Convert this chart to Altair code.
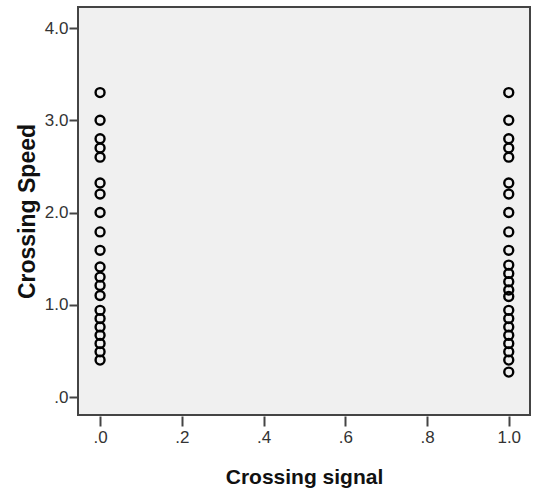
import altair as alt
import pandas as pd

signal_0 = [3.3, 3.0, 2.8, 2.7, 2.6, 2.32, 2.2, 2.0, 1.79, 1.59, 1.41, 1.3, 1.21, 1.1,
            0.94, 0.85, 0.76, 0.67, 0.58, 0.49, 0.40]
signal_1 = [3.3, 3.0, 2.8, 2.7, 2.6, 2.32, 2.2, 2.0, 1.79, 1.59, 1.43, 1.34, 1.25, 1.16,
            1.09, 0.94, 0.85, 0.76, 0.67, 0.58, 0.49, 0.40, 0.27]

x_ticks = [0.0, 0.2, 0.4, 0.6, 0.8, 1.0]
y_ticks = [0.0, 1.0, 2.0, 3.0, 4.0]

df = pd.DataFrame({
    "signal": [0.0] * len(signal_0) + [1.0] * len(signal_1),
    "speed": signal_0 + signal_1,
})

FONT = "Liberation Sans"
LABEL_FONT = "Liberation Sans Narrow, Liberation Sans"
LABEL_EXPR = "datum.value < 1 ? substring(format(datum.value, '.1f'), 1) : format(datum.value, '.1f')"

chart = alt.Chart(df).mark_point(
    shape="circle", filled=False, color="black", strokeWidth=2.4, size=80, opacity=1
).encode(
    x=alt.X("signal:Q",
            scale=alt.Scale(domain=[-0.054, 1.052], nice=False, zero=False),
            axis=alt.Axis(values=x_ticks, title="Crossing signal", labelExpr=LABEL_EXPR,
                          grid=False, domain=False, tickSize=10, tickWidth=2, tickColor="#444",
                          offset=1, labelPadding=3, labelFontSize=17, labelColor="#333",
                          labelFont=LABEL_FONT, titleFont=FONT, titleFontSize=21, titleFontWeight="bold",
                          titleColor="#111", titlePadding=21)),
    y=alt.Y("speed:Q",
            scale=alt.Scale(domain=[-0.195, 4.228], nice=False, zero=False),
            axis=alt.Axis(values=y_ticks, title="Crossing Speed", labelExpr=LABEL_EXPR,
                          grid=False, domain=False, tickSize=9, tickWidth=2, tickColor="#444",
                          labelPadding=1, labelFontSize=17, labelColor="#333",
                          labelFont=LABEL_FONT, titleFont=FONT, titleFontSize=23, titleFontWeight="bold",
                          titleColor="#111", titlePadding=5)),
).properties(
    width=452,
    height=408,
    autosize=alt.AutoSizeParams(type="none"),
    padding={"left": 78, "top": 7, "right": 3, "bottom": 77},
    background="white",
).configure_view(
    fill="#F0F0F0",
    stroke="#444444",
    strokeWidth=2,
)

chart.save("out.html", embed_options={"renderer": "svg", "actions": False})
